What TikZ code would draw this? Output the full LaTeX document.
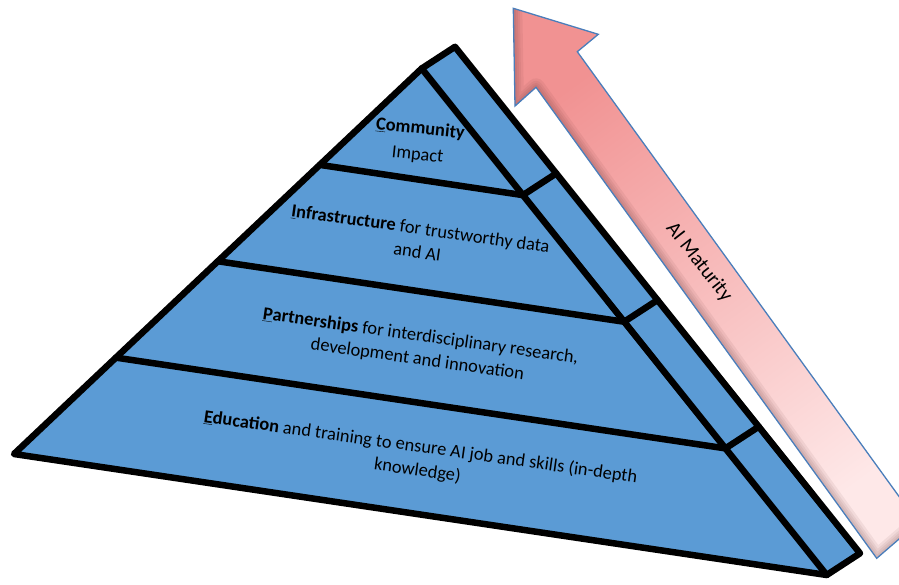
\documentclass[tikz,border=0pt]{standalone}
\usepackage{fontspec}
\setmainfont{Carlito}
\usetikzlibrary{calc}
\definecolor{pyr}{RGB}{91,155,213}
\definecolor{arrowline}{RGB}{74,126,187}
\definecolor{pinktop}{RGB}{241,146,146}
\definecolor{pinkbot}{RGB}{254,232,232}
\definecolor{shadowc}{RGB}{90,40,40}
\begin{document}
\begin{tikzpicture}[x=1pt,y=-1pt,
  edge/.style={line width=6.5pt, line join=round, line cap=round, draw=black},
  face/.style={fill=pyr},
  lbl/.style={font=\fontsize{18.4}{23.5}\selectfont, align=center, rotate=-8, inner sep=0pt, text=black},
  arrowshape/.style={draw=arrowline, line width=1.3pt, line join=miter},
  shadowline/.style={draw=shadowc, line join=round}]
\useasboundingbox (0,0) rectangle (899,584);

% ---------- arrow ----------
\coordinate (T) at (513.3,8.3);
\coordinate (HR) at (598.3,34.3);
\coordinate (NR) at (577.3,51.7);
\coordinate (SL) at (876.7,558.3);
\coordinate (NL) at (536,87.3);
\coordinate (HL) at (515,106);
\coordinate (SR) at ($(NR)+(SL)-(NL)$);
\begin{scope}
  \clip (0,0) rectangle (899,584);
  \shade[top color=pinktop, bottom color=pinkbot, shading angle=36]
    (T) -- (HR) -- (NR) -- (SR) -- (SL) -- (NL) -- (HL) -- cycle;
  \begin{scope}
    \clip (T) -- (HR) -- (NR) -- (SR) -- (SL) -- (NL) -- (HL) -- cycle;
    \foreach \w in {18,13,9,5}
      \draw[shadowline, line width=\w pt, opacity=0.07]
        (T) -- (HL) -- (NL) -- (SL) -- (SR);
  \end{scope}
  \draw[arrowshape] (T) -- (HR) -- (NR) -- (SR) -- (SL) -- (NL) -- (HL) -- cycle;
\end{scope}
\node[font=\fontsize{20.5}{24}\selectfont, rotate=-52, inner sep=0pt] (mat) at (699,262) {AI Maturity};

% ---------- pyramid ----------
\coordinate (A) at (421.7,68.5);
\coordinate (L) at (14,454);
\coordinate (R) at (826.7,575);
\coordinate (Ab) at ($(A)+(33.3,-21.7)$);
\coordinate (Rb) at ($(R)+(33.3,-21.7)$);
\foreach \i/\t in {1/0.25,2/0.5,3/0.75}{
  \coordinate (l\i) at ($(A)!\t!(L)$);
  \coordinate (r\i) at ($(A)!\t!(R)$);
  \coordinate (s\i) at ($(r\i)+(33.3,-21.7)$);
}
\fill[face] (A) -- (Ab) -- (Rb) -- (R) -- cycle;
\fill[face] (A) -- (L) -- (R) -- cycle;
\foreach \i in {1,2,3}
  \draw[edge] (l\i) -- (r\i) -- (s\i);
\draw[edge] (A) -- (R);
\draw[edge] (L) -- (A) -- (Ab) -- (Rb) -- (R) -- cycle;

% ---------- labels ----------
\node[lbl, rotate=2, font=\fontsize{18.4}{26}\selectfont] (comm) at (419,142)
  {\textbf{\underline{C}ommunity}\\Impact};
\node[lbl] (infra) at (419,240)
  {\textbf{\underline{I}nfrastructure} for trustworthy data\\and AI};
\node[lbl] (part) at (419,348)
  {\textbf{\underline{P}artnerships} for interdisciplinary research,\\development and innovation};
\node[lbl] (edu) at (419,459)
  {\textbf{\underline{E}ducation} and training to ensure AI job and skills (in-depth\\knowledge)};
\end{tikzpicture}
\end{document}
